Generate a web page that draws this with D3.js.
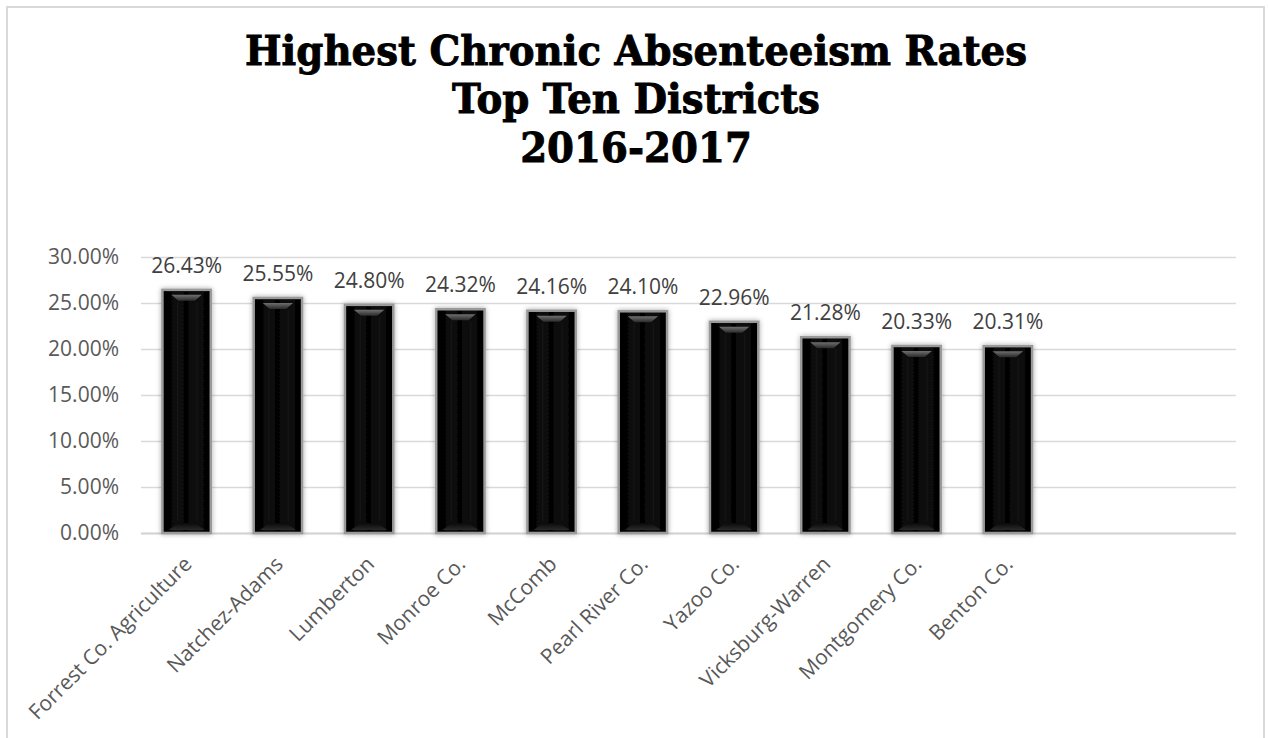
<!DOCTYPE html>
<html><head><meta charset="utf-8">
<script src="https://cdn.jsdelivr.net/npm/d3@7"></script>
<style>html,body{margin:0;padding:0;background:#fff;}svg{display:block;}</style>
</head><body>
<svg id="chart" width="1268" height="738"></svg>
<script>
const titleLines = ["Highest Chronic Absenteeism Rates", "Top Ten Districts", "2016-2017"];
const categories = ["Forrest Co. Agriculture","Natchez-Adams","Lumberton","Monroe Co.","McComb","Pearl River Co.","Yazoo Co.","Vicksburg-Warren","Montgomery Co.","Benton Co."];
const values = [0.2643,0.2555,0.2480,0.2432,0.2416,0.2410,0.2296,0.2128,0.2033,0.2031];
const emptySlots = ["_e1","_e2"];
const yTicks = [0,0.05,0.10,0.15,0.20,0.25,0.30];

const svg = d3.select("#chart");
const plot = {left:141, right:1236, top:257, bottom:533};
const FONT = "'Open Sans', sans-serif";
const FS = "21px";

// chart border
svg.append("rect").attr("x",7).attr("y",7).attr("width",1257).attr("height",760)
  .attr("fill","#fff").attr("stroke","#d9d9d9").attr("stroke-width",2);

// defs
const defs = svg.append("defs");
const sh = defs.append("filter").attr("id","glow").attr("x","-30%").attr("y","-10%").attr("width","160%").attr("height","120%");
sh.append("feGaussianBlur").attr("in","SourceAlpha").attr("stdDeviation",2.5).attr("result","b");
sh.append("feFlood").attr("flood-color","#000").attr("flood-opacity",0.35);
sh.append("feComposite").attr("in2","b").attr("operator","in").attr("result","s");
const mg = sh.append("feMerge"); mg.append("feMergeNode").attr("in","s"); mg.append("feMergeNode").attr("in","SourceGraphic");

const hg = defs.append("linearGradient").attr("id","hgrad").attr("x1","0").attr("x2","1").attr("y1","0").attr("y2","0");
[[0,"#000"],[0.3,"#0a0a0a"],[0.5,"#050505"],[0.7,"#0d0d0d"],[1,"#000"]].forEach(s=>hg.append("stop").attr("offset",s[0]).attr("stop-color",s[1]));
const tg = defs.append("linearGradient").attr("id","tgrad").attr("x1","0").attr("x2","0").attr("y1","0").attr("y2","1");
tg.append("stop").attr("offset",0).attr("stop-color","#707070");
tg.append("stop").attr("offset",1).attr("stop-color","#2a2a2a");
const bg = defs.append("linearGradient").attr("id","bgrad").attr("x1","0").attr("x2","0").attr("y1","0").attr("y2","1");
bg.append("stop").attr("offset",0).attr("stop-color","#0a0a0a");
bg.append("stop").attr("offset",1).attr("stop-color","#2a2a2a");

// scales
const x = d3.scaleBand().domain(categories.concat(emptySlots)).range([plot.left, plot.right]).paddingInner(0.47).paddingOuter(0.235);
const y = d3.scaleLinear().domain([0,0.30]).range([plot.bottom, plot.top]);

// gridlines + y labels
const yAxis = d3.axisLeft(y).tickValues(yTicks).tickSize(-(plot.right-plot.left)).tickFormat(d=>(d*100).toFixed(2)+"%").tickPadding(22);
const gy = svg.append("g").attr("transform",`translate(${plot.left},0)`).call(yAxis);
gy.select(".domain").remove();
gy.selectAll(".tick line").attr("stroke","#d9d9d9").attr("stroke-width",1.3);
gy.selectAll(".tick text").attr("fill","#595959").style("font-family",FONT).style("font-size",FS);

// baseline
svg.append("line").attr("x1",plot.left).attr("x2",plot.right).attr("y1",y(0)+0.5).attr("y2",y(0)+0.5).attr("stroke","#d4d4d4").attr("stroke-width",2);

// bars
const data = categories.map((c,i)=>({c, v:values[i]}));
const bars = svg.append("g").selectAll("g").data(data).join("g");
const bw = x.bandwidth();
bars.append("rect")
  .attr("x",d=>x(d.c)).attr("y",d=>y(d.v)).attr("width",bw).attr("height",d=>y(0)-y(d.v))
  .attr("fill","url(#hgrad)").attr("stroke","#9a9a9a").attr("stroke-width",2.5).attr("filter","url(#glow)");
bars.append("path").attr("d",d=>{
  const x0=x(d.c), t=y(d.v);
  return `M${x0+9},${t+5} L${x0+bw-9},${t+5} L${x0+bw-16},${t+11} L${x0+16},${t+11} Z`;
}).attr("fill","url(#tgrad)");
bars.append("path").attr("d",d=>{
  const x0=x(d.c), b=y(0);
  return `M${x0+16},${b-10} L${x0+bw-16},${b-10} L${x0+bw-6},${b-3} L${x0+6},${b-3} Z`;
}).attr("fill","url(#bgrad)");
bars.append("rect").attr("x",d=>x(d.c)+bw*0.3).attr("y",d=>y(d.v)+12).attr("width",1.5).attr("height",d=>y(0)-y(d.v)-24).attr("fill","#151515");
bars.append("rect").attr("x",d=>x(d.c)+bw*0.7).attr("y",d=>y(d.v)+12).attr("width",1.5).attr("height",d=>y(0)-y(d.v)-24).attr("fill","#151515");

// value labels
svg.append("g").selectAll("text").data(data).join("text")
  .attr("x",d=>x(d.c)+bw/2).attr("y",d=>y(d.v)-17)
  .attr("text-anchor","middle").attr("fill","#404040")
  .style("font-family",FONT).style("font-size",FS)
  .text(d=>(d.v*100).toFixed(2)+"%");

// category labels
svg.append("g").selectAll("text").data(categories).join("text")
  .attr("transform",d=>`translate(${x(d)+bw/2-4},${plot.bottom+22}) rotate(-45)`)
  .attr("text-anchor","end").attr("dy","0.7em").attr("fill","#595959")
  .style("font-family",FONT).style("font-size",FS)
  .text(d=>d);

// title
const baselines = [65,113,162];
const tts = svg.append("g").selectAll("text").data(titleLines).join("text")
  .attr("x",636).attr("y",(d,i)=>baselines[i]).attr("text-anchor","middle")
  .style("font-family","'DejaVu Serif', serif").style("font-weight","bold").style("font-size","41px")
  .attr("fill","#000").attr("stroke","#000").attr("stroke-width",0.9).text(d=>d);
const target = 782;
const natural = tts.nodes()[0].getComputedTextLength();
const f = target/natural;
tts.each(function(){ const L=this.getComputedTextLength(); d3.select(this).attr("textLength",L*f).attr("lengthAdjust","spacingAndGlyphs"); });
</script>
</body></html>
